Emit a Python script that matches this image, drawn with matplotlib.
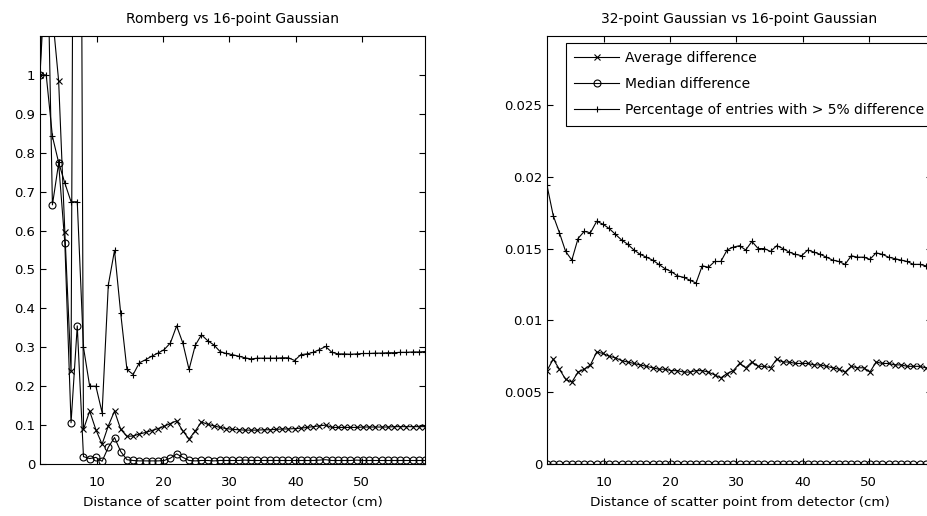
import numpy as np
import matplotlib
matplotlib.use('Agg')
import matplotlib.pyplot as plt

plt.rcParams['font.family'] = ['DejaVu Sans']

# distance of scatter point (cm), 63 samples
x_step = 0.9375
dist = [(k + 1.5) * x_step for k in range(63)]

# Romberg vs 16-point Gaussian (values above 1.1 run off the top)
avg_romberg = [1.00, 1.30, 1.155, 0.985, 0.596, 0.238, 4.00, 0.089, 0.136, 0.088,
               0.051, 0.098, 0.136, 0.089, 0.071, 0.072, 0.077, 0.081, 0.086, 0.091,
               0.097, 0.104, 0.111, 0.085, 0.064, 0.085, 0.108, 0.102, 0.098, 0.094,
               0.091, 0.089, 0.088, 0.087, 0.087, 0.087, 0.088, 0.088, 0.089, 0.090,
               0.090, 0.091, 0.092, 0.094, 0.096, 0.098, 0.100, 0.094, 0.094, 0.094,
               0.094, 0.094, 0.095, 0.095, 0.095, 0.095, 0.095, 0.096, 0.096, 0.096,
               0.096, 0.096, 0.096]
med_romberg = [1.00, 1.50, 0.666, 0.773, 0.568, 0.106, 0.355, 0.019, 0.014, 0.017,
               0.007, 0.043, 0.068, 0.032, 0.011, 0.009, 0.008, 0.008, 0.008, 0.008,
               0.009, 0.015, 0.026, 0.017, 0.009, 0.008, 0.009, 0.009, 0.008, 0.009,
               0.009, 0.009, 0.009, 0.010, 0.009, 0.009, 0.009, 0.009, 0.009, 0.009,
               0.009, 0.009, 0.009, 0.009, 0.009, 0.010, 0.011, 0.009, 0.009, 0.009,
               0.009, 0.010, 0.009, 0.009, 0.009, 0.009, 0.009, 0.009, 0.009, 0.009,
               0.009, 0.009, 0.009]
pct_romberg = [1.00, 1.00, 0.842, 0.775, 0.722, 0.674, 0.674, 0.300, 0.200, 0.200,
               0.132, 0.460, 0.549, 0.387, 0.243, 0.230, 0.260, 0.268, 0.277, 0.285,
               0.294, 0.311, 0.355, 0.311, 0.243, 0.305, 0.332, 0.317, 0.306, 0.289,
               0.284, 0.281, 0.277, 0.273, 0.270, 0.272, 0.272, 0.272, 0.272, 0.273,
               0.273, 0.266, 0.281, 0.283, 0.287, 0.294, 0.302, 0.287, 0.283, 0.283,
               0.282, 0.283, 0.284, 0.284, 0.285, 0.285, 0.286, 0.286, 0.287, 0.287,
               0.288, 0.288, 0.289]

# 32-point vs 16-point Gaussian
avg_gauss = [0.0065, 0.0073, 0.0066, 0.0059, 0.0057, 0.0064, 0.0066, 0.0069, 0.0078, 0.0077,
             0.0075, 0.0074, 0.0072, 0.0071, 0.0070, 0.0069, 0.0068, 0.0067, 0.0066, 0.0066,
             0.0065, 0.0065, 0.0064, 0.0064, 0.0065, 0.0065, 0.0064, 0.0062, 0.0060, 0.0063,
             0.0065, 0.0070, 0.0067, 0.0071, 0.0068, 0.0068, 0.0067, 0.0073, 0.0071, 0.0071,
             0.0070, 0.0070, 0.0070, 0.0069, 0.0069, 0.0068, 0.0067, 0.0066, 0.0064, 0.0068,
             0.0067, 0.0067, 0.0064, 0.0071, 0.0070, 0.0070, 0.0069, 0.0069, 0.0068, 0.0068,
             0.0068, 0.0067, 0.0067]
med_gauss = [0.0] * 63
pct_gauss = [0.0194, 0.0173, 0.0161, 0.0148, 0.0142, 0.0157, 0.0162, 0.0161, 0.0169, 0.0167,
             0.0164, 0.0160, 0.0156, 0.0153, 0.0149, 0.0146, 0.0144, 0.0142, 0.0139, 0.0136,
             0.0134, 0.0131, 0.0130, 0.0128, 0.0126, 0.0138, 0.0137, 0.0141, 0.0141, 0.0149,
             0.0151, 0.0152, 0.0149, 0.0155, 0.0150, 0.0150, 0.0148, 0.0152, 0.0150, 0.01475,
             0.0146, 0.0145, 0.0149, 0.01475, 0.0146, 0.0144, 0.0142, 0.0141, 0.0139, 0.0145,
             0.0144, 0.0144, 0.01425, 0.0147, 0.0146, 0.0144, 0.0143, 0.0142, 0.0141, 0.0139,
             0.0139, 0.0138, 0.0137]

W, H = 928, 516
fig = plt.figure(figsize=(W / 100, H / 100), dpi=100)
ax1 = fig.add_axes([40 / W, (H - 464) / H, 385 / W, 428 / H])
ax2 = fig.add_axes([547 / W, (H - 464) / H, 385 / W, 428 / H])

mk = dict(color='k', lw=0.8, markersize=5, markerfacecolor='none', markeredgewidth=0.8)

for ax, a, m, p in [(ax1, avg_romberg, med_romberg, pct_romberg),
                    (ax2, avg_gauss, med_gauss, pct_gauss)]:
    ax.plot(dist, a, marker='x', label='Average difference', **mk)
    ax.plot(dist, m, marker='o', label='Median difference', **mk)
    ax.plot(dist, p, marker='+', label='Percentage of entries with > 5% difference', **mk)
    ax.set_xlim(dist[0], dist[-1])
    ax.set_xticks([10, 20, 30, 40, 50])
    ax.tick_params(axis='both', direction='in', length=4, width=0.8, labelsize=9.5,
                   top=True, right=True)
    ax.tick_params(axis='x', pad=9)
    ax.set_xlabel('Distance of scatter point from detector (cm)', fontsize=9.7, labelpad=5)
    for s in ax.spines.values():
        s.set_linewidth(0.8)

ax1.set_ylim(0, 1.1)
ax1.set_yticks(np.arange(0, 1.01, 0.1))
ax1.set_yticklabels(['0', '0.1', '0.2', '0.3', '0.4', '0.5', '0.6', '0.7', '0.8', '0.9', '1'])
ax1.set_title('Romberg vs 16-point Gaussian', fontsize=10, pad=9)

ax2.set_ylim(0, 0.0298)
ax2.set_yticks([0, 0.005, 0.01, 0.015, 0.02, 0.025])
ax2.set_yticklabels(['0', '0.005', '0.01', '0.015', '0.02', '0.025'])
ax2.set_title('32-point Gaussian vs 16-point Gaussian', fontsize=10, pad=9)
leg = ax2.legend(loc='upper left', bbox_to_anchor=(19 / 385, 1 - 7 / 428), fontsize=10,
                 fancybox=False, edgecolor='k', framealpha=1, borderaxespad=0,
                 handlelength=3.2, handletextpad=0.45, borderpad=0.6, labelspacing=0.86)
leg.get_frame().set_linewidth(0.8)

fig.savefig('out.png', dpi=100)
